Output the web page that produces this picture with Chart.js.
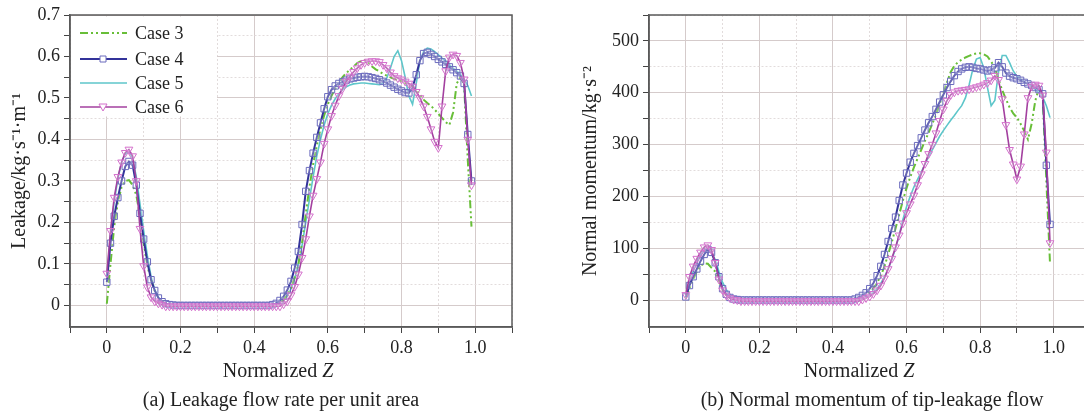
<!DOCTYPE html>
<html>
<head>
<meta charset="utf-8">
<script src="https://cdn.jsdelivr.net/npm/chart.js@4"></script>
<style>
html, body { margin: 0; padding: 0; background: #fff; width: 1084px; height: 412px; overflow: hidden; }
canvas { position: absolute; top: 0; }
.cap { position: absolute; top: 388px; line-height: 24px; font: 20px "Liberation Serif", serif; color: #222; white-space: nowrap; transform: translateX(-50%); }
</style>
</head>
<body>
<canvas id="leak" width="540" height="412" style="left:0"></canvas>
<canvas id="mom" width="556" height="412" style="left:540px"></canvas>
<div class="cap" style="left:281px">(a) Leakage flow rate per unit area</div>
<div class="cap" style="left:872px">(b) Normal momentum of tip-leakage flow</div>
<script>
// normalized Z positions (shared by both panels)
const zA = [0, 0.01, 0.02, 0.03, 0.04, 0.05, 0.06, 0.07, 0.08, 0.09,
  0.10, 0.11, 0.12, 0.13, 0.14, 0.15, 0.16, 0.17, 0.18, 0.19,
  0.20, 0.21, 0.22, 0.23, 0.24, 0.25, 0.26, 0.27, 0.28, 0.29,
  0.30, 0.31, 0.32, 0.33, 0.34, 0.35, 0.36, 0.37, 0.38, 0.39,
  0.40, 0.41, 0.42, 0.43, 0.44, 0.45, 0.46, 0.47, 0.48, 0.49,
  0.50, 0.51, 0.52, 0.53, 0.54, 0.55, 0.56, 0.57, 0.58, 0.59,
  0.60, 0.61, 0.62, 0.63, 0.64, 0.65, 0.66, 0.67, 0.68, 0.69,
  0.70, 0.71, 0.72, 0.73, 0.74, 0.75, 0.76, 0.77, 0.78, 0.79,
  0.80, 0.81, 0.82, 0.83, 0.84, 0.85, 0.86, 0.87, 0.88, 0.89,
  0.90, 0.91, 0.92, 0.93, 0.94, 0.95, 0.96, 0.97, 0.98, 0.99];

const caseNames = ['Case 3', 'Case 4', 'Case 5', 'Case 6'];

// (a) leakage flow rate per unit area
const leak3 = [0.004, 0.10, 0.19, 0.25, 0.285, 0.30, 0.302, 0.29, 0.266, 0.215,
  0.15, 0.095, 0.062, 0.035, 0.018, 0.009, 0.004, 0.001, 0, 0,
  0, 0, 0, 0, 0, 0, 0, 0, 0, 0,
  0, 0, 0, 0, 0, 0, 0, 0, 0, 0,
  0, 0, 0, 0, 0, 0, 0, 0.006, 0.013, 0.025,
  0.042, 0.067, 0.10, 0.15, 0.22, 0.285, 0.34, 0.385, 0.425, 0.458,
  0.485, 0.505, 0.522, 0.538, 0.55, 0.56, 0.568, 0.576, 0.584, 0.589,
  0.591, 0.585, 0.576, 0.569, 0.564, 0.558, 0.554, 0.55, 0.546, 0.543,
  0.54, 0.536, 0.532, 0.528, 0.52, 0.508, 0.496, 0.488, 0.481, 0.472,
  0.462, 0.452, 0.442, 0.435, 0.465, 0.535, 0.55, 0.532, 0.35, 0.19];
const leak4 = [0.056, 0.15, 0.215, 0.26, 0.30, 0.335, 0.347, 0.338, 0.29, 0.222,
  0.16, 0.105, 0.062, 0.036, 0.018, 0.009, 0.004, 0.002, 0.001, 0,
  0, 0, 0, 0, 0, 0, 0, 0, 0, 0,
  0, 0, 0, 0, 0, 0, 0, 0, 0, 0,
  0, 0, 0, 0, 0, 0.002, 0.005, 0.012, 0.022, 0.037,
  0.058, 0.09, 0.13, 0.195, 0.275, 0.325, 0.367, 0.405, 0.44, 0.474,
  0.503, 0.52, 0.529, 0.535, 0.539, 0.543, 0.546, 0.548, 0.55, 0.551,
  0.552, 0.551, 0.549, 0.547, 0.544, 0.54, 0.536, 0.531, 0.526, 0.521,
  0.517, 0.513, 0.512, 0.525, 0.556, 0.59, 0.607, 0.61, 0.605, 0.60,
  0.593, 0.587, 0.581, 0.575, 0.568, 0.561, 0.553, 0.535, 0.412, 0.30];
const leak5 = [0.068, 0.17, 0.25, 0.305, 0.345, 0.365, 0.371, 0.355, 0.31, 0.245,
  0.18, 0.12, 0.07, 0.038, 0.02, 0.009, 0.004, 0.001, 0, 0,
  0, 0, 0, 0, 0, 0, 0, 0, 0, 0,
  0, 0, 0, 0, 0, 0, 0, 0, 0, 0,
  0, 0, 0, 0, 0, 0, 0.003, 0.007, 0.014, 0.025,
  0.04, 0.065, 0.10, 0.145, 0.20, 0.255, 0.31, 0.36, 0.40, 0.435,
  0.462, 0.482, 0.498, 0.51, 0.52, 0.527, 0.531, 0.534, 0.535, 0.536,
  0.536, 0.535, 0.534, 0.533, 0.532, 0.536, 0.548, 0.572, 0.60, 0.614,
  0.59, 0.55, 0.505, 0.485, 0.535, 0.59, 0.612, 0.62, 0.618, 0.612,
  0.604, 0.596, 0.589, 0.58, 0.572, 0.565, 0.557, 0.545, 0.53, 0.505];
const leak6 = [0.077, 0.18, 0.26, 0.31, 0.345, 0.368, 0.376, 0.36, 0.30, 0.185,
  0.095, 0.044, 0.02, 0.01, 0.005, 0.002, -0.002, -0.002, -0.002, -0.002,
  -0.002, -0.002, -0.002, -0.002, -0.002, -0.002, -0.002, -0.002, -0.002, -0.002,
  -0.002, -0.002, -0.002, -0.002, -0.002, -0.002, -0.002, -0.002, -0.002, -0.002,
  -0.002, -0.002, -0.002, -0.002, -0.002, -0.002, -0.002, -0.002, 0.003, 0.01,
  0.025, 0.045, 0.075, 0.115, 0.16, 0.215, 0.265, 0.305, 0.345, 0.39,
  0.425, 0.457, 0.482, 0.505, 0.523, 0.54, 0.552, 0.563, 0.572, 0.58,
  0.585, 0.588, 0.589, 0.589, 0.587, 0.58, 0.572, 0.562, 0.553, 0.548,
  0.545, 0.54, 0.535, 0.528, 0.515, 0.50, 0.48, 0.455, 0.425, 0.395,
  0.38, 0.48, 0.565, 0.598, 0.605, 0.602, 0.585, 0.545, 0.40, 0.29];

// (b) normal momentum of tip-leakage flow
const mom3 = [3, 22, 40, 55, 66, 71, 70, 62, 55, 38,
  19, 9, 4, 2, 1, 0, 0, 0, 0, 0,
  0, 0, 0, 0, 0, 0, 0, 0, 0, 0,
  0, 0, 0, 0, 0, 0, 0, 0, 0, 0,
  0, 0, 0, 0, 0, 0, 0, 3, 6, 10,
  15, 23, 33, 47, 65, 88, 112, 138, 165, 192,
  216, 237, 256, 273, 290, 307, 323, 340, 358, 378,
  398, 420, 440, 452, 459, 464, 468, 471, 474, 476,
  476, 474, 470, 460, 448, 425, 405, 388, 372, 360,
  352, 340, 326, 310, 340, 385, 408, 395, 230, 70];
const mom4 = [6, 28, 45, 60, 75, 88, 98, 92, 72, 45,
  22, 11, 5, 2, 1, 0, 0, 0, 0, 0,
  0, 0, 0, 0, 0, 0, 0, 0, 0, 0,
  0, 0, 0, 0, 0, 0, 0, 0, 0, 0,
  0, 0, 0, 0, 0, 0, 2, 5, 9, 14,
  22, 33, 47, 65, 88, 113, 138, 160, 192, 222,
  245, 266, 283, 298, 313, 328, 342, 354, 368, 382,
  396, 410, 422, 433, 441, 446, 449, 450, 449, 447,
  446, 444, 442, 444, 448, 458, 450, 438, 432, 429,
  427, 424, 420, 417, 414, 410, 406, 398, 260, 146];
const mom5 = [5, 33, 55, 72, 86, 95, 100, 92, 78, 55,
  34, 20, 10, 4, 2, 0, 0, 0, 0, 0,
  0, 0, 0, 0, 0, 0, 0, 0, 0, 0,
  0, 0, 0, 0, 0, 0, 0, 0, 0, 0,
  0, 0, 0, 0, 0, 0, 0, 2, 4, 6,
  9, 14, 22, 32, 45, 60, 78, 100, 125, 155,
  180, 200, 218, 233, 247, 262, 276, 290, 303, 316,
  327, 337, 347, 356, 366, 375, 390, 415, 445, 465,
  468, 448, 410, 375, 385, 440, 472, 472, 458, 442,
  432, 426, 421, 416, 411, 406, 400, 392, 375, 352];
const mom6 = [10, 45, 65, 80, 92, 102, 106, 97, 72, 40,
  19, 9, 4, 1, 0, -2, -2, -2, -2, -2,
  -2, -2, -2, -2, -2, -2, -2, -2, -2, -2,
  -2, -2, -2, -2, -2, -2, -2, -2, -2, -2,
  -2, -2, -2, -2, -2, -2, -2, -2, 1, 4,
  7, 12, 19, 28, 42, 60, 80, 102, 125, 148,
  168, 185, 202, 222, 243, 263, 282, 300, 322, 346,
  368, 385, 396, 401, 404, 405, 406, 407, 409, 411,
  413, 416, 419, 424, 433, 425, 388, 338, 290, 262,
  233, 258, 320, 390, 412, 416, 414, 395, 285, 110];

// ticks
const xTicks = [-0.1, 0, 0.1, 0.2, 0.3, 0.4, 0.5, 0.6, 0.7, 0.8, 0.9, 1.0, 1.1];
const xTickLabels = ['', '0', '', '0.2', '', '0.4', '', '0.6', '', '0.8', '', '1.0', ''];
const leakTicks = [0, 0.05, 0.1, 0.15, 0.2, 0.25, 0.3, 0.35, 0.4, 0.45, 0.5, 0.55, 0.6, 0.65, 0.7];
const leakTickLabels = ['0', '', '0.1', '', '0.2', '', '0.3', '', '0.4', '', '0.5', '', '0.6', '', '0.7'];
const momTicks = [0, 50, 100, 150, 200, 250, 300, 350, 400, 450, 500, 550];
const momTickLabels = ['0', '', '100', '', '200', '', '300', '', '400', '', '500', ''];

const serif = 'Liberation Serif';

function pts(ys) {
  return zA.map((z, i) => ({ x: z, y: ys[i] }));
}

function makeSets(a, b, c, d) {
  return [
    { label: caseNames[0], data: pts(a), borderColor: '#68be38', borderWidth: 2,
      borderDash: [8, 3, 2, 3, 2, 3], pointRadius: 0, order: 2 },
    { label: caseNames[1], data: pts(b), borderColor: '#33339a', borderWidth: 2,
      pointStyle: 'rect', pointRadius: 4.5, pointBorderWidth: 1,
      pointBorderColor: '#6a6abd', pointBackgroundColor: 'rgba(255,255,255,0.25)', order: 1 },
    { label: caseNames[2], data: pts(c), borderColor: '#5ec6ca', borderWidth: 1.6,
      pointRadius: 0, order: 3 },
    { label: caseNames[3], data: pts(d), borderColor: '#a3409f', borderWidth: 1.6,
      pointStyle: 'triangle', pointRotation: 180, pointRadius: 4.5, pointBorderWidth: 1,
      pointBorderColor: '#d470cc', pointBackgroundColor: 'rgba(255,255,255,0.25)', order: 0 }
  ];
}

function isMajor(ctx) {
  return ctx.tick && ctx.tick.label !== '';
}

function gridOpts() {
  return {
    color: ctx => isMajor(ctx) ? '#d5cbcb' : '#e2dcdc',
    lineWidth: 1,
    tickLength: 6,
    tickColor: '#444'
  };
}

function borderOpts() {
  return { color: '#5a5a5a', width: 1.5, dash: ctx => (ctx.tick && ctx.tick.label === '') ? [2, 2] : [] };
}

function xScale(max) {
  return {
    type: 'linear', min: -0.1, max: max,
    afterBuildTicks: s => { s.ticks = xTicks.map(v => ({ value: v })); },
    afterFit: s => { s.height = 85; },
    grid: gridOpts(),
    border: borderOpts(),
    ticks: { autoSkip: false, maxRotation: 0, padding: 4, color: '#222',
      font: { family: serif, size: 18 }, callback: (v, i) => xTickLabels[i] }
  };
}

function yScale(min, max, ticks, labels, width, title, pad) {
  return {
    type: 'linear', min: min, max: max,
    afterBuildTicks: s => { s.ticks = ticks.map(v => ({ value: v })); },
    afterFit: s => { s.width = width; },
    grid: gridOpts(),
    border: borderOpts(),
    ticks: { autoSkip: false, padding: 4, color: '#222',
      font: { family: serif, size: 18 }, callback: (v, i) => labels[i] },
    title: { display: true, text: title, color: '#222', padding: { top: pad },
      font: { family: serif, size: 20 } }
  };
}

// frame, italic x title and inside legend
const decor = {
  id: 'decor',
  afterDraw(chart, args, opts) {
    const { ctx, chartArea: a } = chart;
    ctx.save();
    if (opts.legend) {
      ctx.fillStyle = '#fff';
      ctx.fillRect(a.left + 1, a.top + 1.5, 146, 100);
      const rows = [33, 59, 83, 107];
      chart.data.datasets.forEach((ds, i) => {
        const y = rows[i];
        ctx.strokeStyle = ds.borderColor;
        ctx.lineWidth = ds.borderWidth;
        ctx.setLineDash(ds.borderDash || []);
        ctx.beginPath();
        ctx.moveTo(80, y);
        ctx.lineTo(127, y);
        ctx.stroke();
        ctx.setLineDash([]);
        if (ds.pointRadius) {
          ctx.strokeStyle = ds.pointBorderColor;
          ctx.lineWidth = 1;
          ctx.fillStyle = '#fff';
          ctx.beginPath();
          if (ds.pointStyle === 'rect') {
            ctx.rect(100, y - 3, 6, 6);
          } else {
            ctx.moveTo(99, y - 3);
            ctx.lineTo(107, y - 3);
            ctx.lineTo(103, y + 4);
            ctx.closePath();
          }
          ctx.fill();
          ctx.stroke();
        }
        ctx.fillStyle = '#222';
        ctx.font = '18px "' + serif + '"';
        ctx.textBaseline = 'middle';
        ctx.fillText(ds.label, 135, y + 1);
      });
    }
    ctx.strokeStyle = '#5a5a5a';
    ctx.lineWidth = 1.5;
    ctx.strokeRect(a.left, a.top, a.right - a.left, a.bottom - a.top);

    ctx.fillStyle = '#222';
    ctx.textBaseline = 'middle';
    ctx.font = '20px "' + serif + '"';
    const w1 = ctx.measureText('Normalized ').width;
    ctx.font = 'italic 20px "' + serif + '"';
    const w2 = ctx.measureText('Z').width;
    const x0 = opts.titleX - (w1 + w2) / 2;
    ctx.font = '20px "' + serif + '"';
    ctx.fillText('Normalized ', x0, 372);
    ctx.font = 'italic 20px "' + serif + '"';
    ctx.fillText('Z', x0 + w1, 372);
    ctx.restore();
  }
};

function makeChart(id, sets, yOpts, xMax, right, decorOpts) {
  return new Chart(document.getElementById(id), {
    type: 'line',
    data: { datasets: sets },
    options: {
      responsive: false,
      animation: false,
      events: [],
      layout: { padding: { left: 0, right: right, top: 15, bottom: 0 } },
      elements: { line: { tension: 0 } },
      scales: { x: xScale(xMax), y: yOpts },
      plugins: { legend: { display: false }, tooltip: { enabled: false }, decor: decorOpts }
    },
    plugins: [decor]
  });
}

const chartA = makeChart('leak', makeSets(leak3, leak4, leak5, leak6),
  yScale(-0.052, 0.7, leakTicks, leakTickLabels, 70, 'Leakage/kg·s⁻¹·m⁻¹', 8),
  1.1, 28, { legend: true, titleX: 278 });

const chartB = makeChart('mom', makeSets(mom3, mom4, mom5, mom6),
  yScale(-52, 550, momTicks, momTickLabels, 109, 'Normal momentum/kg·s⁻²', 39),
  1.1, 3.4, { legend: false, titleX: 319 });
</script>
</body>
</html>
